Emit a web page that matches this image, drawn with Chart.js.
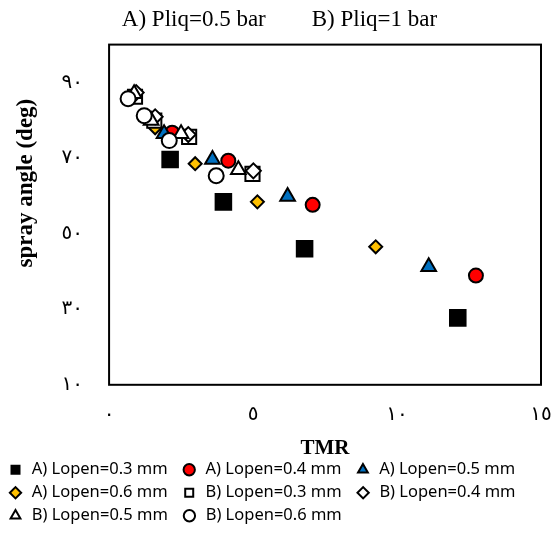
<!DOCTYPE html>
<html>
<head>
<meta charset="utf-8">
<script src="https://cdn.jsdelivr.net/npm/chart.js@4"></script>
<style>
  html, body { margin: 0; padding: 0; background: #fff; }
  #wrap { width: 558px; height: 538px; }
</style>
</head>
<body>
<div id="wrap"><canvas id="c" width="558" height="538"></canvas></div>
<script>
// Series data: [TMR, spray angle]
const seriesNames = [
  'A) Lopen=0.3 mm', 'A) Lopen=0.4 mm', 'A) Lopen=0.5 mm', 'A) Lopen=0.6 mm',
  'B) Lopen=0.3 mm', 'B) Lopen=0.4 mm', 'B) Lopen=0.5 mm', 'B) Lopen=0.6 mm'
];
const a03_x = [2.12, 3.97, 6.79, 12.11];
const a03_y = [69.6, 58.4, 46.0, 27.7];
const a04_x = [2.19, 4.14, 7.07, 12.74];
const a04_y = [76.7, 69.3, 57.6, 38.9];
const a05_x = [1.91, 3.59, 6.20, 11.10];
const a05_y = [76.4, 69.6, 59.8, 41.2];
const a06_x = [1.60, 2.99, 5.15, 9.26];
const a06_y = [78.0, 68.5, 58.4, 46.5];
const b03_x = [0.90, 1.57, 2.78, 4.98];
const b03_y = [86.2, 79.9, 75.6, 65.8];
const b04_x = [0.94, 1.60, 2.75, 5.01];
const b04_y = [87.3, 80.9, 76.2, 66.6];
const b05_x = [0.87, 1.46, 2.50, 4.49];
const b05_y = [87.0, 79.9, 76.4, 66.9];
const b06_x = [0.66, 1.22, 2.09, 3.72];
const b06_y = [85.7, 81.2, 74.6, 65.3];

const xTickValues = [0, 5, 10, 15];
const xTickLabels = ['٠', '٥', '١٠', '١٥'];
const yTickValues = [10, 30, 50, 70, 90];
const yTickLabels = ['١٠', '٣٠', '٥٠', '٧٠', '٩٠'];

const titleText = 'A) Pliq=0.5 bar        B) Pliq=1 bar';
const xTitle = 'TMR';
const yTitle = 'spray angle (deg)';

function pts(xs, ys) { return xs.map((x, i) => ({ x: x, y: ys[i] })); }

const styles = [
  { pointStyle: 'rect',     bg: '#000000', r: 11 },
  { pointStyle: 'circle',   bg: '#FF0000', r: 7 },
  { pointStyle: 'triangle', bg: '#0070C0', r: 8.5 },
  { pointStyle: 'rectRot',  bg: '#FFC000', r: 6.5 },
  { pointStyle: 'rect',     bg: '#FFFFFF', r: 10 },
  { pointStyle: 'rectRot',  bg: '#FFFFFF', r: 7.5 },
  { pointStyle: 'triangle', bg: '#FFFFFF', r: 8.5 },
  { pointStyle: 'circle',   bg: '#FFFFFF', r: 7.5 }
];
const allX = [a03_x, a04_x, a05_x, a06_x, b03_x, b04_x, b05_x, b06_x];
const allY = [a03_y, a04_y, a05_y, a06_y, b03_y, b04_y, b05_y, b06_y];

const datasets = seriesNames.map((name, i) => ({
  label: name,
  data: pts(allX[i], allY[i]),
  pointStyle: styles[i].pointStyle,
  backgroundColor: styles[i].bg,
  borderColor: '#000000',
  borderWidth: 2,
  pointBackgroundColor: styles[i].bg,
  pointBorderColor: '#000000',
  pointBorderWidth: 2,
  pointRadius: styles[i].r,
  pointHoverRadius: styles[i].r,
  showLine: false,
  order: seriesNames.length - i
}));

const frame = {
  id: 'frame',
  afterDatasetsDraw(chart) {
    const a = chart.chartArea, ctx = chart.ctx;
    ctx.save();
    ctx.strokeStyle = '#000';
    ctx.lineWidth = 2;
    ctx.strokeRect(a.left, a.top, a.right - a.left, a.bottom - a.top);
    ctx.restore();
  }
};

new Chart(document.getElementById('c'), {
  type: 'scatter',
  data: { datasets: datasets },
  plugins: [frame],
  options: {
    responsive: false,
    animation: false,
    layout: { padding: { left: 1, right: 0, top: 4, bottom: 4 } },
    plugins: {
      tooltip: { enabled: false },
      title: {
        display: true,
        text: titleText,
        color: '#000',
        font: { family: "'Liberation Serif', 'Times New Roman', serif", size: 23, weight: 'normal' },
        padding: { top: 2, bottom: 11 }
      },
      legend: {
        position: 'bottom',
        align: 'start',
        labels: {
          usePointStyle: true,
          boxWidth: 16,
          boxHeight: 8,
          padding: 6.5,
          color: '#000',
          font: { family: "'Noto Sans', 'Open Sans', sans-serif", size: 16.5 },
          sort: (a, b) => a.datasetIndex - b.datasetIndex,
          generateLabels: (chart) => {
            const items = Chart.defaults.plugins.legend.labels.generateLabels(chart);
            items.forEach(it => { it.text = it.text + ' \u2009'; it.lineWidth = 2; });
            return items;
          }
        }
      }
    },
    scales: {
      x: {
        type: 'linear',
        min: 0, max: 15,
        afterBuildTicks: (s) => { s.ticks = xTickValues.map(v => ({ value: v })); },
        afterFit: (s) => { s.paddingRight = 17; },
        ticks: {
          color: '#000',
          padding: 18,
          maxRotation: 0,
          font: { family: "'DejaVu Sans', sans-serif", size: 20 },
          callback: (v) => { const k = xTickValues.indexOf(v); return k >= 0 ? xTickLabels[k] : ''; }
        },
        grid: { display: false, drawTicks: false },
        border: { display: false },
        title: {
          display: true, text: xTitle, color: '#000',
          font: { family: "'Liberation Serif', 'Times New Roman', serif", size: 21, weight: 'bold' },
          padding: { top: -9, bottom: -6 }
        }
      },
      y: {
        type: 'linear',
        min: 10, max: 100,
        afterBuildTicks: (s) => { s.ticks = yTickValues.map(v => ({ value: v })); },
        ticks: {
          color: '#000',
          padding: 26,
          font: { family: "'DejaVu Sans', sans-serif", size: 20 },
          callback: (v) => { const k = yTickValues.indexOf(v); return k >= 0 ? yTickLabels[k] : ''; }
        },
        grid: { display: false, drawTicks: false },
        border: { display: false },
        title: {
          display: true, text: ' '.repeat(11) + yTitle, color: '#000',
          font: { family: "'Liberation Serif', 'Times New Roman', serif", size: 23, weight: 'bold' },
          padding: { top: 11, bottom: -4 }
        }
      }
    }
  }
});
</script>
</body>
</html>
